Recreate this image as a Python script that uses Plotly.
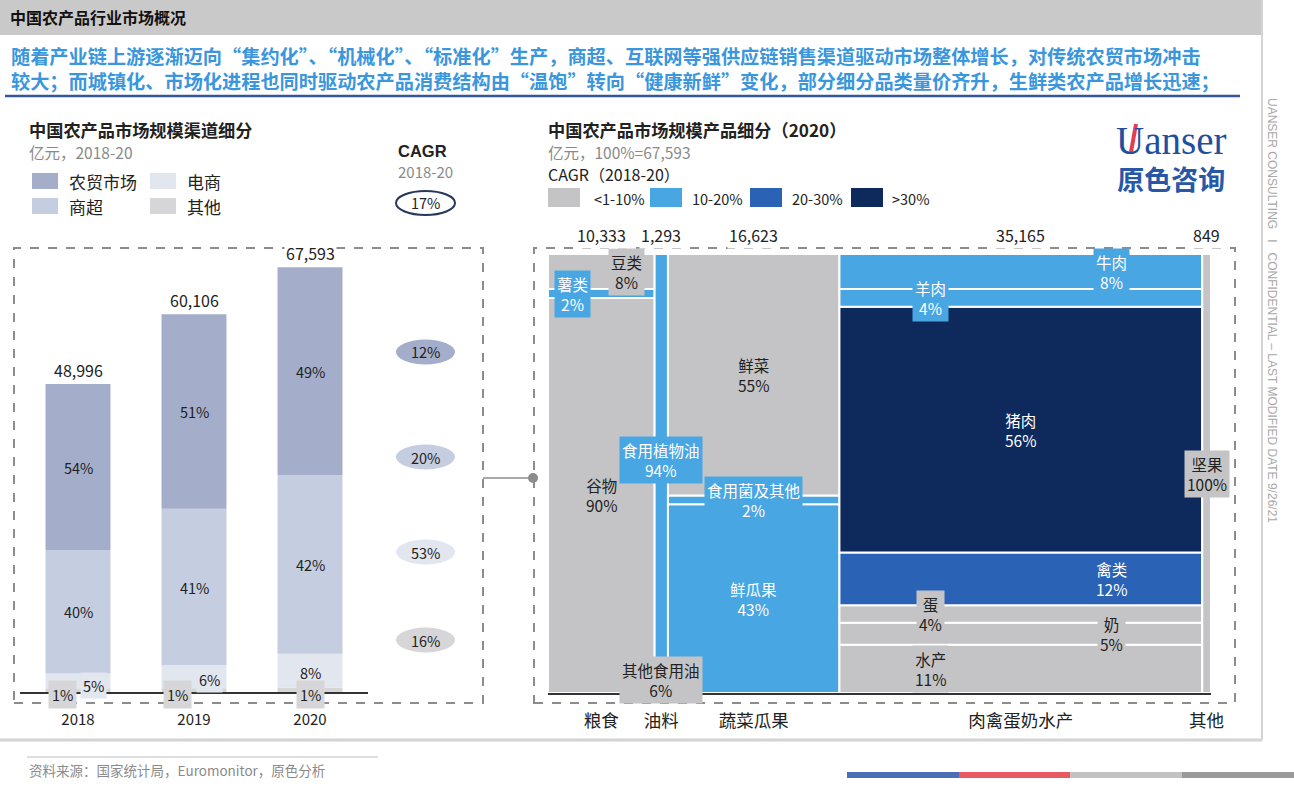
import plotly.graph_objects as go

W, H = 1294, 800


def px(x):
    return x / W


def py(y):
    return 1 - y / H


FONT = "Noto Sans CJK SC"

# ---------------- data: channel breakdown ----------------
years = ["2018", "2019", "2020"]
totals = [48996, 60106, 67593]
channels = ["农贸市场", "商超", "电商", "其他"]
share_farm = [54, 51, 49]
share_super = [40, 41, 42]
share_ecom = [5, 6, 8]
share_other = [1, 1, 1]
channel_cagr = ["12%", "20%", "53%", "16%"]
total_cagr = "17%"

# ---------------- data: product breakdown 2020 ----------------
groups = ["粮食", "油料", "蔬菜瓜果", "肉禽蛋奶水产", "其他"]
group_sizes = [10333, 1293, 16623, 35165, 849]
# items bottom -> top, share within group, CAGR class
grain_items = ["谷物", "薯类", "豆类"]
grain_shares = [90, 2, 8]
grain_class = ["<1-10%", "10-20%", "<1-10%"]
oil_items = ["其他食用油", "食用植物油"]
oil_shares = [6, 94]
oil_class = ["<1-10%", "10-20%"]
veg_items = ["鲜瓜果", "食用菌及其他", "鲜菜"]
veg_shares = [43, 2, 55]
veg_class = ["10-20%", "10-20%", "<1-10%"]
meat_items = ["水产", "奶", "蛋", "禽类", "猪肉", "羊肉", "牛肉"]
meat_shares = [11, 5, 4, 12, 56, 4, 8]
meat_class = ["<1-10%", "<1-10%", "<1-10%", "20-30%", ">30%", "10-20%", "10-20%"]
other_items = ["坚果"]
other_shares = [100]
other_class = ["<1-10%"]
cagr_classes = ["<1-10%", "10-20%", "20-30%", ">30%"]

# ---------------- styles ----------------
ch_colors = {"农贸市场": "#a4aeca", "商超": "#c5cde0", "电商": "#e2e6ef", "其他": "#d6d6d8"}
class_colors = {"<1-10%": "#c4c4c6", "10-20%": "#48a6e3", "20-30%": "#2a62b6", ">30%": "#0e2a5c"}
class_text = {"<1-10%": "#222222", "10-20%": "white", "20-30%": "white", ">30%": "white"}
# label horizontal position (fraction of column width)
grain_lx = [0.5, 0.23, 0.74]
oil_lx = [0.5, 0.5]
veg_lx = [0.5, 0.5, 0.5]
meat_lx = [0.25, 0.75, 0.25, 0.75, 0.5, 0.25, 0.75]
other_lx = [0.5]

fig = go.Figure()
annotations = []
shapes = []

# ---------------- left stacked bars ----------------
stack_order = [("其他", share_other), ("电商", share_ecom), ("商超", share_super), ("农贸市场", share_farm)]
year_sum = [sum(v) for v in zip(share_farm, share_super, share_ecom, share_other)]
xs = list(range(len(years)))
base = [0.0] * len(years)
seg_centers = {}
for name, shares in stack_order:
    vals = [t * s / ys for t, s, ys in zip(totals, shares, year_sum)]
    fig.add_trace(go.Bar(x=xs, y=vals, base=base[:], width=0.56, marker=dict(color=ch_colors[name], line=dict(width=0)),
                         xaxis="x", yaxis="y", showlegend=False, hoverinfo="skip"))
    seg_centers[name] = [b + v / 2 for b, v in zip(base, vals)]
    base = [b + v for b, v in zip(base, vals)]

lab_font = dict(family=FONT, size=14.5, color="#222222")
for name, shares in [("农贸市场", share_farm), ("商超", share_super)]:
    for i in xs:
        annotations.append(dict(x=i, y=seg_centers[name][i], xref="x", yref="y", text=f"{shares[i]}%",
                                showarrow=False, font=lab_font))
ecom_dx = [15, 15, 0]
ecom_dy = [-4, -3, -2]
for i in xs:
    annotations.append(dict(x=i, y=seg_centers["电商"][i], xref="x", yref="y", text=f"{share_ecom[i]}%",
                            showarrow=False, font=lab_font, xshift=ecom_dx[i], yshift=ecom_dy[i],
                            bgcolor=ch_colors["电商"], borderpad=2))
other_dx = [-16, -17, 0]
for i in xs:
    annotations.append(dict(x=i, y=0, xref="x", yref="y", text=f"{share_other[i]}%",
                            showarrow=False, font=lab_font, xshift=other_dx[i], yshift=-2,
                            bgcolor=ch_colors["其他"], borderpad=3))
for i in xs:
    annotations.append(dict(x=i, y=totals[i], xref="x", yref="y", text=f"{totals[i]:,}",
                            showarrow=False, font=dict(family=FONT, size=16, color="#222"),
                            yanchor="bottom", yshift=0, bgcolor="white", borderpad=1))

# ---------------- right marimekko ----------------
all_groups = [
    (grain_items, grain_shares, grain_class, grain_lx),
    (oil_items, oil_shares, oil_class, oil_lx),
    (veg_items, veg_shares, veg_class, veg_lx),
    (meat_items, meat_shares, meat_class, meat_lx),
    (other_items, other_shares, other_class, other_lx),
]
mx, my, mbase, mwidth, mcol = [], [], [], [], []
centers = []
cum = 0
for gsize, (items, shares, cls, lxs) in zip(group_sizes, all_groups):
    c = cum + gsize / 2
    centers.append(c)
    b = 0
    for it, s, k, lx in zip(items, shares, cls, lxs):
        mx.append(c)
        my.append(s)
        mbase.append(b)
        mwidth.append(gsize)
        mcol.append(class_colors[k])
        annotations.append(dict(x=cum + lx * gsize, y=b + s / 2, xref="x2", yref="y2",
                                text=f"{it}<br>{s}%", showarrow=False,
                                font=dict(family=FONT, size=15.5, color=class_text[k]),
                                bgcolor=class_colors[k], borderpad=2))
        b += s
    cum += gsize
total_size = cum

fig.add_trace(go.Bar(x=mx, y=my, base=mbase, width=mwidth, marker=dict(color=mcol, line=dict(color="white", width=2)),
                     xaxis="x2", yaxis="y2", showlegend=False, hoverinfo="skip"))

for c, g in zip(centers, group_sizes):
    annotations.append(dict(x=c, y=100, xref="x2", yref="y2", text=f"{g:,}", showarrow=False,
                            font=dict(family=FONT, size=16, color="#222"), yanchor="bottom", yshift=5,
                            bgcolor="white", borderpad=1))


# ---------------- page decorations ----------------
def ann(x, y, text, size=14, color="#222", xanchor="left", **kw):
    d = dict(x=px(x), y=py(y), xref="paper", yref="paper", text=text, showarrow=False,
             font=dict(family=kw.pop("family", FONT), size=size, color=color), xanchor=xanchor, yanchor="middle")
    d.update(kw)
    annotations.append(d)


def rect(x0, y0, x1, y1, fill=None, line=None, lw=0, dash=None, typ="rect", layer="above"):
    shapes.append(dict(type=typ, xref="paper", yref="paper", x0=px(x0), x1=px(x1), y0=py(y1), y1=py(y0),
                       fillcolor=fill, line=dict(color=line, width=lw, dash=dash), layer=layer))


def line(x0, y0, x1, y1, color, lw, dash=None):
    shapes.append(dict(type="line", xref="paper", yref="paper", x0=px(x0), x1=px(x1), y0=py(y0), y1=py(y1),
                       line=dict(color=color, width=lw, dash=dash)))


# header
rect(0, 0, 1262, 35, fill="#c9c9c9", line="#c9c9c9", lw=0, layer="below")
ann(8, 17, "<b>中国农产品行业市场概况</b>", size=16, color="#111")
line(1262, 0, 1262, 740, "#d4d4d4", 2)
line(0, 740, 1262, 740, "#d4d4d4", 3)

# subtitle
sub1 = "随着产业链上游逐渐迈向“集约化”、“机械化”、“标准化”生产，商超、互联网等强供应链销售渠道驱动市场整体增长，对传统农贸市场冲击"
sub2 = "较大；而城镇化、市场化进程也同时驱动农产品消费结构由“温饱”转向“健康新鲜”变化，部分细分品类量价齐升，生鲜类农产品增长迅速；"
ann(9, 68.5, f"<b>{sub1}<br>{sub2}</b>", size=19.2, color="#3a96dd", align="left")
line(5, 96, 1240, 96, "#34559a", 2.5)

# vertical side text
annotations.append(dict(x=px(1281), y=py(310), xref="paper", yref="paper", showarrow=False, textangle=90,
                        text="UANSER CONSULTING   I   CONFIDENTIAL – LAST MODIFIED DATE 9/26/21",
                        font=dict(family="Liberation Sans", size=12, color="#a8a8a8")))

# logo (one text block, two lines)
logo_text = ('<span style="font-family:Liberation Serif;font-size:39px;color:#1f4f9f">Uanser</span><br>'
             '<b><span style="font-size:27px;color:#2758a8">原色咨询</span></b>')
ann(1171, 158, logo_text, size=28, color="#2758a8", xanchor="center")
line(1136, 124, 1131, 152, "#e04050", 4)

# left titles & legend
ann(27, 130, "<b>中国农产品市场规模渠道细分</b>", size=17.2, color="#222")
ann(27, 152, "亿元，2018-20", size=15.5, color="#8a8a8a")
leg_pos = [("农贸市场", 32, 181), ("电商", 150, 181), ("商超", 32, 206), ("其他", 150, 206)]
for name, x0, yc in leg_pos:
    rect(x0, yc - 8, x0 + 26, yc + 8, fill=ch_colors[name], line=ch_colors[name], lw=0)
    ann(x0 + 35, yc, name, size=17, color="#222")

# CAGR header & ellipses
ann(396, 151, "<b>CAGR</b>", size=16.5, color="#222", family="Liberation Sans")
ann(396, 172, "2018-20", size=15, color="#8a8a8a")
rect(396, 191, 455, 215, fill="white", line="#26385c", lw=2, typ="circle")
ann(425.5, 203, total_cagr, size=14.5, color="#222", xanchor="center")
ell_y = [352, 457, 552, 640]
for name, val, yc in zip(channels, channel_cagr, ell_y):
    rect(396, yc - 12.5, 455, yc + 12.5, fill=ch_colors[name], line=ch_colors[name], lw=0, typ="circle")
    ann(425.5, yc, val, size=14.5, color="#222", xanchor="center")

# dashed boxes and connector
rect(14, 248, 483, 703, line="#8c8c8c", lw=2, dash="dash", layer="below")
rect(534, 248, 1235, 703, line="#8c8c8c", lw=2, dash="dash", layer="below")
line(483, 478, 533, 478, "#8c8c8c", 1.5)
rect(528, 473, 538, 483, fill="#8c8c8c", line="#8c8c8c", lw=0, typ="circle")

# right titles & legend
ann(546, 130, "<b>中国农产品市场规模产品细分（2020）</b>", size=17.2, color="#222")
ann(546, 152, "亿元，100%=67,593", size=15.5, color="#8a8a8a")
ann(546, 174, "CAGR（2018-20）", size=16, color="#222")
leg2 = [(548, 592), (650, 690), (750, 790), (851, 890)]
for k, (sx, tx) in zip(cagr_classes, leg2):
    rect(sx, 188, sx + 32, 207, fill=class_colors[k], line=class_colors[k], lw=0)
    ann(tx, 198, k, size=14.5, color="#222")

# footer
line(27, 757, 378, 757, "#dedede", 2)
ann(27, 770, "资料来源：国家统计局，Euromonitor，原色分析", size=13.5, color="#8a8a8a")
for x0, x1, col in [(847, 959, "#4a6fb8"), (959, 1070, "#e85a62"), (1070, 1182, "#c2c2c2"), (1182, 1294, "#9a9a9a")]:
    rect(x0, 772, x1, 778, fill=col, line=col, lw=0)

# ---------------- layout ----------------
fig.update_layout(
    width=W, height=H, autosize=False, margin=dict(l=0, r=0, t=0, b=0, pad=0, autoexpand=False),
    paper_bgcolor="white", plot_bgcolor="rgba(0,0,0,0)", barmode="overlay",
    font=dict(family=FONT, color="#222"),
    xaxis=dict(domain=[px(20), px(368)], range=[-0.5, 2.5], tickvals=xs, ticktext=years,
               tickfont=dict(family=FONT, size=15, color="#222"), showline=True, linecolor="#333", linewidth=2,
               showgrid=False, zeroline=False, ticks="", ticklabelstandoff=13, fixedrange=True, automargin=False),
    yaxis=dict(domain=[py(692), py(252)], range=[0, 70000], visible=False, fixedrange=True, automargin=False),
    xaxis2=dict(domain=[px(548), px(1211)], range=[0, total_size], tickvals=centers, ticktext=groups,
                tickfont=dict(family=FONT, size=17.5, color="#222"), showline=True, linecolor="#333", linewidth=2,
                showgrid=False, zeroline=False, ticks="", ticklabelstandoff=11, anchor="y2", fixedrange=True,
                automargin=False),
    yaxis2=dict(domain=[py(693), py(254)], range=[0, 100], visible=False, anchor="x2", fixedrange=True,
                automargin=False),
    annotations=annotations, shapes=shapes, showlegend=False,
)

fig.write_html("out.html", config={"displayModeBar": False},
               post_script="document.body.style.margin='0';document.body.style.overflow='hidden';")
